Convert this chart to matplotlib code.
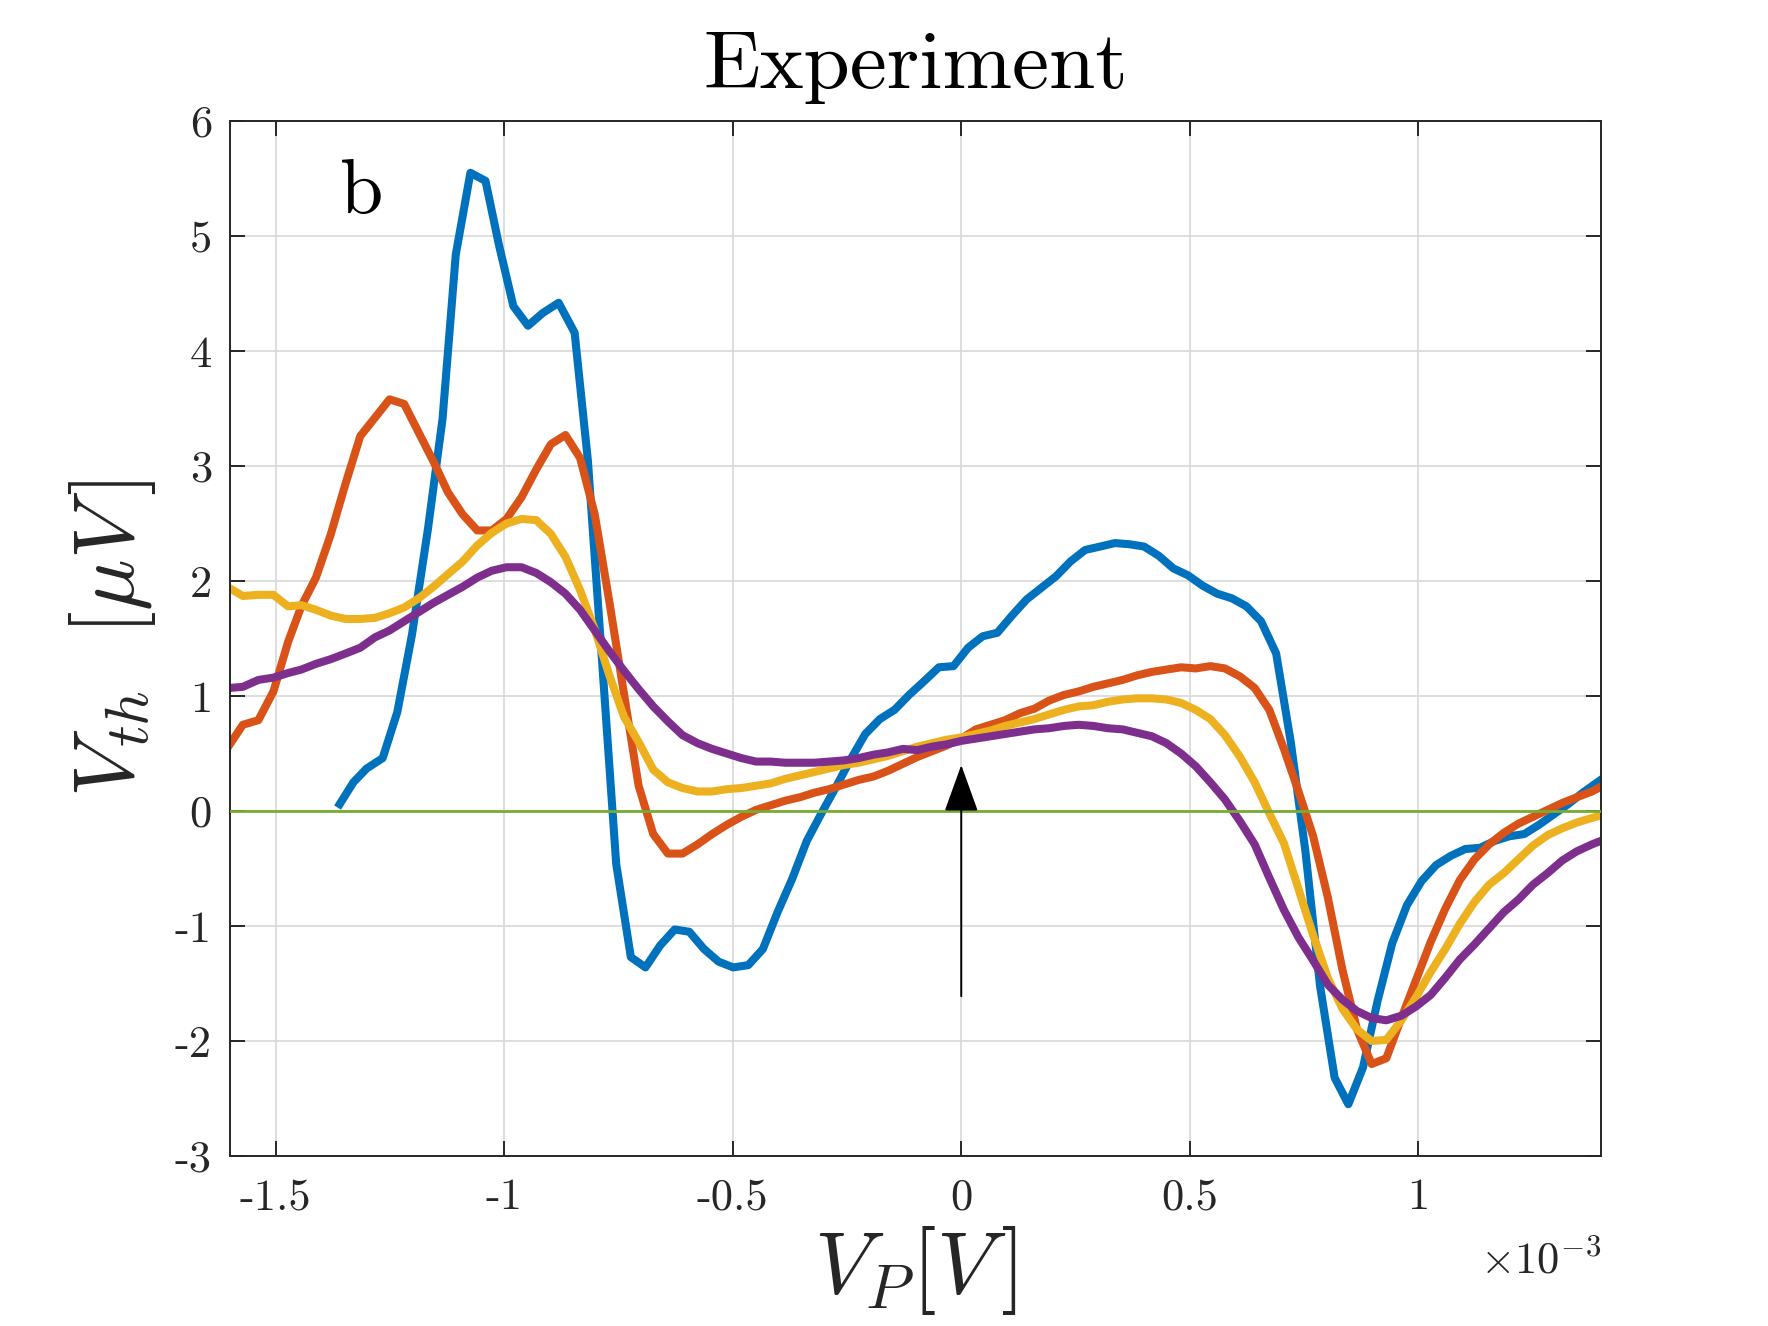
import numpy as np
import matplotlib
matplotlib.use('Agg')
import matplotlib.pyplot as plt
from matplotlib.ticker import FuncFormatter

plt.rcParams['font.family'] = 'serif'
plt.rcParams['font.serif'] = ['cmr10']
plt.rcParams['mathtext.fontset'] = 'cm'
plt.rcParams['axes.unicode_minus'] = False

# gate voltage grid, in units of 1e-3 V
vp = [-1.602, -1.572, -1.538, -1.505, -1.473, -1.444, -1.412, -1.380, -1.347, -1.315,
      -1.283, -1.251, -1.219, -1.187, -1.155, -1.123, -1.091, -1.059, -1.027, -0.995,
      -0.962, -0.930, -0.898, -0.866, -0.834, -0.802, -0.770, -0.738, -0.706, -0.674,
      -0.642, -0.610, -0.577, -0.545, -0.513, -0.481, -0.449, -0.417, -0.385, -0.353,
      -0.321, -0.289, -0.257, -0.225, -0.192, -0.160, -0.128, -0.096, -0.064, -0.032,
      0.000, 0.032, 0.064, 0.096, 0.128, 0.160, 0.192, 0.225, 0.257, 0.289,
      0.321, 0.353, 0.385, 0.417, 0.449, 0.481, 0.513, 0.545, 0.577, 0.610,
      0.642, 0.674, 0.706, 0.738, 0.770, 0.802, 0.834, 0.866, 0.898, 0.930,
      0.963, 0.995, 1.027, 1.059, 1.091, 1.123, 1.155, 1.187, 1.219, 1.251,
      1.283, 1.315, 1.347, 1.380, 1.399]

vp_blue = [-1.360, -1.330, -1.301, -1.266, -1.234, -1.202, -1.167, -1.135, -1.106, -1.074,
           -1.041, -1.012, -0.980, -0.948, -0.916, -0.881, -0.846, -0.817, -0.785, -0.755,
           -0.723, -0.691, -0.659, -0.627, -0.595, -0.563, -0.531, -0.499, -0.466, -0.434,
           -0.402, -0.370, -0.338, -0.306, -0.274, -0.242, -0.210, -0.178, -0.146, -0.114,
           -0.081, -0.049, -0.017, 0.015, 0.047, 0.079, 0.111, 0.143, 0.175, 0.207,
           0.239, 0.271, 0.304, 0.336, 0.368, 0.400, 0.432, 0.464, 0.496, 0.528,
           0.560, 0.592, 0.624, 0.656, 0.689, 0.721, 0.753, 0.785, 0.817, 0.847,
           0.879, 0.911, 0.943, 0.975, 1.007, 1.039, 1.071, 1.103, 1.135, 1.167,
           1.199, 1.232, 1.264, 1.296, 1.328, 1.360, 1.399]

# thermovoltage, microvolts
vth_blue = [0.06, 0.25, 0.37, 0.46, 0.86, 1.53, 2.45, 3.41, 4.84, 5.55,
            5.48, 4.93, 4.39, 4.22, 4.33, 4.42, 4.16, 3.05, 1.25, -0.46,
            -1.27, -1.36, -1.17, -1.03, -1.05, -1.20, -1.31, -1.36, -1.34, -1.20,
            -0.88, -0.59, -0.26, -0.02, 0.21, 0.45, 0.67, 0.80, 0.88, 1.01,
            1.13, 1.25, 1.26, 1.42, 1.52, 1.55, 1.70, 1.84, 1.94, 2.04,
            2.17, 2.27, 2.30, 2.33, 2.32, 2.30, 2.22, 2.11, 2.05, 1.96,
            1.89, 1.85, 1.78, 1.65, 1.37, 0.60, -0.35, -1.52, -2.32, -2.55,
            -2.23, -1.65, -1.15, -0.82, -0.61, -0.47, -0.39, -0.33, -0.32, -0.26,
            -0.22, -0.20, -0.12, -0.03, 0.06, 0.16, 0.27]

vth_orange = [0.57, 0.75, 0.79, 1.04, 1.47, 1.78, 2.03, 2.40, 2.85, 3.26,
              3.42, 3.58, 3.54, 3.29, 3.04, 2.77, 2.58, 2.44, 2.44, 2.54,
              2.73, 2.97, 3.19, 3.27, 3.07, 2.58, 1.82, 1.02, 0.22, -0.20,
              -0.37, -0.37, -0.29, -0.20, -0.12, -0.05, 0.01, 0.05, 0.09, 0.12,
              0.16, 0.19, 0.23, 0.27, 0.30, 0.35, 0.41, 0.47, 0.52, 0.57,
              0.63, 0.71, 0.75, 0.79, 0.85, 0.89, 0.96, 1.01, 1.04, 1.08,
              1.11, 1.14, 1.18, 1.21, 1.23, 1.25, 1.24, 1.26, 1.24, 1.17,
              1.07, 0.88, 0.54, 0.17, -0.22, -0.75, -1.38, -1.90, -2.20, -2.15,
              -1.80, -1.47, -1.14, -0.85, -0.60, -0.42, -0.29, -0.19, -0.11, -0.05,
              0.01, 0.07, 0.12, 0.17, 0.21]

vth_yellow = [1.94, 1.87, 1.88, 1.88, 1.78, 1.79, 1.75, 1.70, 1.67, 1.67,
              1.68, 1.72, 1.77, 1.85, 1.95, 2.06, 2.17, 2.31, 2.42, 2.50,
              2.54, 2.53, 2.41, 2.21, 1.92, 1.58, 1.18, 0.82, 0.60, 0.36,
              0.25, 0.20, 0.17, 0.17, 0.19, 0.20, 0.22, 0.24, 0.28, 0.31,
              0.34, 0.37, 0.40, 0.42, 0.45, 0.48, 0.52, 0.56, 0.59, 0.62,
              0.64, 0.67, 0.70, 0.74, 0.77, 0.80, 0.84, 0.88, 0.91, 0.92,
              0.95, 0.97, 0.98, 0.98, 0.97, 0.94, 0.88, 0.80, 0.66, 0.47,
              0.25, -0.02, -0.28, -0.68, -1.08, -1.45, -1.72, -1.90, -2.00, -1.99,
              -1.82, -1.62, -1.40, -1.20, -0.98, -0.79, -0.64, -0.54, -0.42, -0.30,
              -0.21, -0.15, -0.10, -0.06, -0.04]

vth_purple = [1.07, 1.08, 1.14, 1.16, 1.20, 1.23, 1.28, 1.32, 1.37, 1.42,
              1.51, 1.57, 1.65, 1.73, 1.81, 1.88, 1.95, 2.03, 2.09, 2.12,
              2.12, 2.07, 1.99, 1.89, 1.75, 1.57, 1.39, 1.22, 1.06, 0.91,
              0.78, 0.66, 0.59, 0.54, 0.50, 0.46, 0.43, 0.43, 0.42, 0.42,
              0.42, 0.43, 0.44, 0.46, 0.49, 0.51, 0.54, 0.53, 0.56, 0.58,
              0.61, 0.63, 0.65, 0.67, 0.69, 0.71, 0.72, 0.74, 0.75, 0.74,
              0.72, 0.71, 0.68, 0.65, 0.59, 0.50, 0.39, 0.25, 0.10, -0.09,
              -0.29, -0.58, -0.86, -1.10, -1.30, -1.51, -1.64, -1.74, -1.80, -1.82,
              -1.78, -1.70, -1.60, -1.45, -1.29, -1.16, -1.02, -0.88, -0.77, -0.64,
              -0.54, -0.43, -0.35, -0.29, -0.26]

xticks = [-1.5, -1.0, -0.5, 0.0, 0.5, 1.0]
yticks = [-3, -2, -1, 0, 1, 2, 3, 4, 5, 6]

x = np.array(vp) * 1e-3
xb = np.array(vp_blue) * 1e-3

fig = plt.figure(figsize=(8.84, 6.63), dpi=200)
ax = fig.add_axes([0.1301, 0.1282, 0.7755, 0.7805])

ax.plot(xb, vth_blue, color='#0072BD', lw=2.9)
ax.plot(x, vth_orange, color='#D95319', lw=2.9)
ax.plot(x, vth_yellow, color='#EDB120', lw=2.9)
ax.plot(x, vth_purple, color='#7E2F8E', lw=2.9)
ax.axhline(0, color='#77AC30', lw=1.0, zorder=3)

ax.annotate('', xy=(0, 0.40), xytext=(0, -1.61),
            arrowprops=dict(arrowstyle='-|>,head_length=0.75,head_width=0.27',
                            mutation_scale=20, color='k', lw=0.7,
                            shrinkA=0, shrinkB=0))

ax.text(-1.312e-3, 5.20, 'b', fontsize=28, ha='center', va='baseline')

ax.set_xlim(-1.6e-3, 1.4e-3)
ax.set_ylim(-3, 6)
ax.set_xticks(np.array(xticks) * 1e-3)
ax.set_yticks(yticks)
ax.xaxis.set_major_formatter(FuncFormatter(lambda v, p: '%g' % round(v * 1e3, 6)))
ax.yaxis.set_major_formatter(FuncFormatter(lambda v, p: '%g' % v))
ax.grid(True, color='#d8d8d8', lw=0.6)
ax.set_axisbelow(True)

for s in ax.spines.values():
    s.set_color('#262626')
    s.set_linewidth(0.7)
ax.tick_params(direction='in', length=5.4, width=0.7, colors='#262626',
               labelsize=16, top=True, right=True)
ax.tick_params(axis='x', pad=8)
ax.tick_params(axis='y', pad=6.5)

ax.text(1.0, -0.114, r'$\times10^{-3}$', transform=ax.transAxes,
        ha='right', va='baseline', fontsize=16, color='#262626')

ax.set_title('Experiment', fontsize=30, pad=12)
ax.set_xlabel(r'$V_P[V\,]$', fontsize=32, color='#262626', labelpad=2)
ax.set_ylabel(r'$V_{th}\ \ [\mu V\,]$', fontsize=31, color='#262626', labelpad=6)

fig.savefig('out.png', dpi=200)
